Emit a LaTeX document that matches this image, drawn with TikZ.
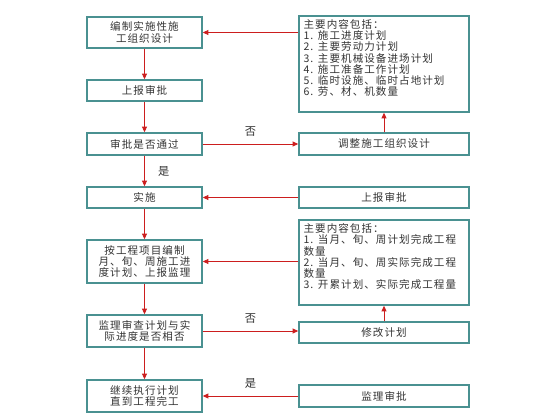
\documentclass[tikz,border=0pt]{standalone}
\usepackage{fontspec}
\newfontfamily\cjk[LetterSpace=10]{Noto Sans CJK SC}
\usetikzlibrary{arrows.meta,positioning,calc}
\definecolor{boxteal}{RGB}{74,145,145}
\definecolor{flowred}{RGB}{204,30,30}
\begin{document}
\begin{tikzpicture}[x=0.025cm, y=-0.025cm, font=\cjk\fontsize{7.5}{8}\selectfont,
    box/.style={draw=boxteal, line width=1pt, fill=white, inner sep=2pt, align=center, text=black!80},
    lbox/.style={box, minimum width=2.875cm},
    rbox/.style={box, minimum width=4.25cm},
    list/.style={anchor=north west, align=left, inner sep=0pt, text=black!80},
    flow/.style={draw=flowred, line width=0.6pt, -{Triangle[length=4pt, width=3.5pt]}},
    lab/.style={font=\cjk\fontsize{8}{8}\selectfont, text=black!80}]
  \useasboundingbox (0,0) rectangle (560,420);
  % ---- left column
  \node[lbox, minimum height=0.775cm] (plan) at (144.5,32.5) {编制实施性施\\工组织设计};
  \node[lbox, minimum height=0.525cm] (report) at (144.5,90.5) {上报审批};
  \node[lbox, minimum height=0.55cm] (check) at (144.5,144) {审批是否通过};
  \node[lbox, minimum height=0.525cm] (exec) at (144.5,197.5) {实施};
  \node[lbox, minimum height=1.075cm] (sched) at (144.5,261.5) {按工程项目编制\\月、旬、周施工进\\度计划、上报监理};
  \node[lbox, minimum height=0.8cm] (match) at (144.5,331) {监理审查计划与实\\际进度是否相否};
  \node[lbox, minimum height=0.8cm] (finish) at (144.5,396) {继续执行计划\\直到工程完工};
  % ---- right column
  \node[rbox, minimum height=2.4cm] (items) at (384,64) {};
  \node[list] (itemst) at ($(items.north west)+(5,4)$) {主要内容包括：\\1. 施工进度计划\\2. 主要劳动力计划\\3. 主要机械设备进场计划\\4. 施工准备工作计划\\5. 临时设施、临时占地计划\\6. 劳、材、机数量};
  \node[rbox, minimum height=0.55cm] (adjust) at (384,144) {调整施工组织设计};
  \node[rbox, minimum height=0.525cm] (report2) at (384,197.5) {上报审批};
  \node[rbox, minimum height=2.125cm] (amounts) at (384,262.5) {};
  \node[list] (amountst) at ($(amounts.north west)+(5,4)$) {主要内容包括：\\1. 当月、旬、周计划完成工程\\数量\\2. 当月、旬、周实际完成工程\\数量\\3. 开累计划、实际完成工程量};
  \node[rbox, minimum height=0.525cm] (revise) at (384,332.5) {修改计划};
  \node[rbox, minimum height=0.55cm] (approve) at (384,396) {监理审批};
  % ---- connectors
  \draw[flow] (plan) -- (report);
  \draw[flow] (report) -- (check);
  \draw[flow] (check) -- node[lab, right=6pt] {是} (exec);
  \draw[flow] (exec) -- (sched);
  \draw[flow] (sched) -- (match);
  \draw[flow] (match) -- (finish);
  \draw[flow] (check) -- node[lab, above=2pt] {否} (adjust);
  \draw[flow] (adjust) -- (items);
  \draw[flow] (items.west |- plan) -- (plan);
  \draw[flow] (report2) -- (exec);
  \draw[flow] (amounts.west |- sched) -- (sched);
  \draw[flow] (match) -- node[lab, above=2pt] {否} (match -| revise.west);
  \draw[flow] (revise) -- (amounts);
  \draw[flow] (approve) -- node[lab, above=2pt] {是} (finish);
\end{tikzpicture}
\end{document}
